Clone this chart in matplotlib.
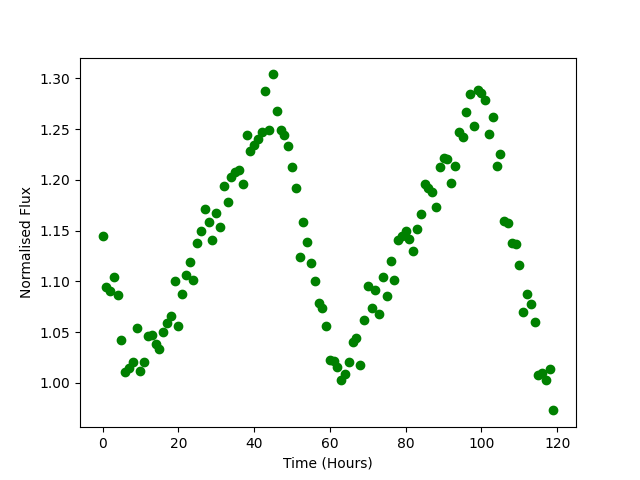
import matplotlib
matplotlib.use("Agg")
import matplotlib.pyplot as plt
import numpy as np

hours = list(range(120))
flux = [1.145, 1.095, 1.091, 1.104, 1.087, 1.042, 1.011, 1.015, 1.021, 1.054,
        1.012, 1.021, 1.046, 1.047, 1.038, 1.033, 1.050, 1.059, 1.066, 1.100,
        1.056, 1.088, 1.106, 1.119, 1.101, 1.138, 1.150, 1.171, 1.159, 1.141,
        1.167, 1.154, 1.194, 1.178, 1.203, 1.208, 1.210, 1.196, 1.244, 1.229,
        1.234, 1.240, 1.247, 1.288, 1.249, 1.304, 1.268, 1.249, 1.244, 1.233,
        1.213, 1.192, 1.124, 1.159, 1.139, 1.118, 1.100, 1.079, 1.074, 1.056,
        1.023, 1.022, 1.016, 1.003, 1.009, 1.021, 1.040, 1.044, 1.018, 1.062,
        1.096, 1.074, 1.092, 1.068, 1.104, 1.086, 1.120, 1.101, 1.141, 1.145,
        1.150, 1.142, 1.130, 1.152, 1.166, 1.196, 1.192, 1.188, 1.173, 1.213,
        1.222, 1.221, 1.197, 1.214, 1.247, 1.242, 1.267, 1.285, 1.253, 1.289,
        1.286, 1.279, 1.245, 1.262, 1.214, 1.226, 1.160, 1.158, 1.138, 1.137,
        1.116, 1.070, 1.088, 1.078, 1.060, 1.008, 1.010, 1.003, 1.014, 0.973]

fig, ax = plt.subplots(figsize=(6.4, 4.8), dpi=100)
ax.plot(hours, flux, 'o', color='green')
ax.set_xlabel('Time (Hours)')
ax.set_ylabel('Normalised Flux')
fig.savefig('out.png')
